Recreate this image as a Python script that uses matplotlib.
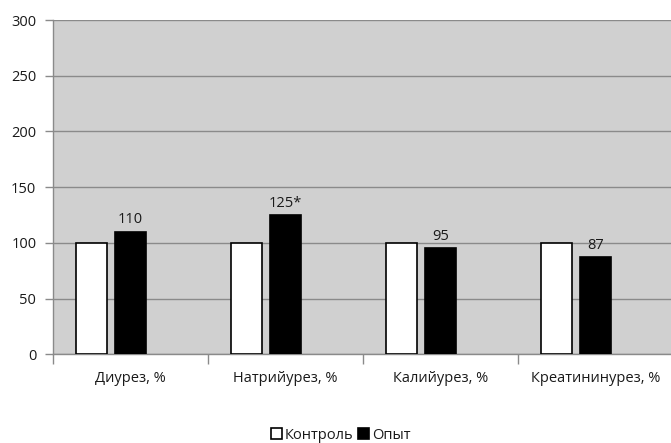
import matplotlib
matplotlib.use("Agg")
import matplotlib.pyplot as plt
import numpy as np
from matplotlib.patches import Patch

categories = ["Диурез, %", "Натрийурез, %", "Калийурез, %", "Креатининурез, %"]
control = [100, 100, 100, 100]
experiment = [110, 125, 95, 87]
value_labels = ["110", "125*", "95", "87"]
series_names = ["Контроль", "Опыт"]
y_ticks = [0, 50, 100, 150, 200, 250, 300]

plt.rcParams["font.family"] = ["Open Sans", "DejaVu Sans"]
text_color = "#1a1a1a"
grid_color = "#8a8a8a"
fs = 10.5

fig = plt.figure(figsize=(6.71, 4.43), dpi=100)
ax = fig.add_axes([53 / 671, (443 - 354.3) / 443, 620 / 671, 334.3 / 443])
ax.set_facecolor("#d0d0d0")

centers = np.arange(len(categories)) + 0.5
width = 0.2
ax.bar(centers - 0.252, control, width, color="white", edgecolor="black",
       linewidth=1.2, zorder=3)
ax.bar(centers, experiment, width, color="black", edgecolor="black",
       linewidth=1.2, zorder=3)

for x, v, lab in zip(centers, experiment, value_labels):
    ax.text(x, v + 4, lab, ha="center", va="bottom", fontsize=fs,
            color=text_color, zorder=4)

ax.set_xlim(0, 4)
ax.set_ylim(0, 300)
ax.set_yticks(y_ticks)
ax.set_yticklabels([str(t) for t in y_ticks], fontsize=fs, color=text_color)
ax.yaxis.grid(True, color=grid_color, linewidth=1.0, zorder=1)
ax.set_axisbelow(True)

# category boundaries carry the tick marks; labels sit at centers
ax.set_xticks(np.arange(len(categories) + 1))
ax.set_xticklabels([])
ax.set_xticks(centers, minor=True)
ax.set_xticklabels(categories, minor=True, fontsize=fs, color=text_color)
ax.tick_params(axis="x", which="major", length=7, width=1, color=grid_color,
               direction="out")
ax.tick_params(axis="x", which="minor", length=0, pad=12)
ax.tick_params(axis="y", length=6, width=1, color=grid_color, pad=6)

for side in ["top", "right"]:
    ax.spines[side].set_visible(False)
for side in ["left", "bottom"]:
    ax.spines[side].set_color(grid_color)
    ax.spines[side].set_linewidth(1.0)

handles = [Patch(facecolor="white", edgecolor="black", linewidth=1.2),
           Patch(facecolor="black", edgecolor="black", linewidth=1.2)]
fig.legend(handles, series_names, loc="center", bbox_to_anchor=(0.508, 0.018),
           ncol=2, frameon=False, fontsize=fs, handlelength=0.75,
           handleheight=0.75, handletextpad=0.2, columnspacing=0.3,
           labelcolor=text_color)

fig.savefig("out.png", dpi=100, facecolor="white")
